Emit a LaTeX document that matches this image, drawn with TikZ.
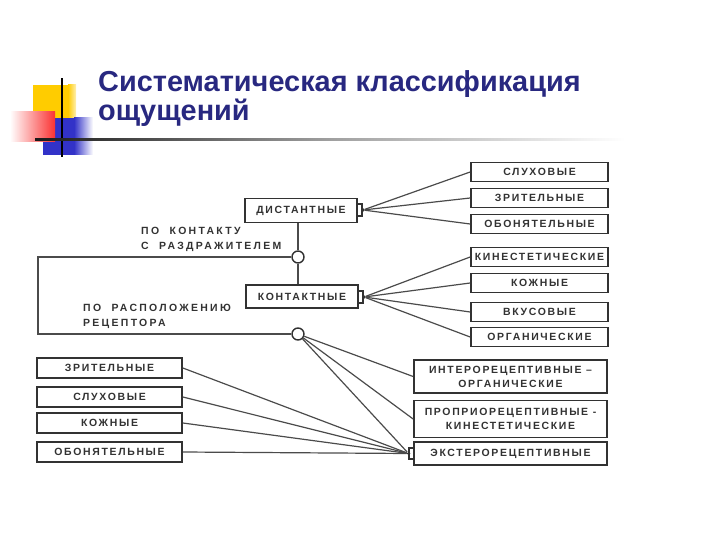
\documentclass[tikz,border=0pt]{standalone}
\usepackage{fontspec}
\setmainfont{Liberation Sans}
\newfontfamily\labfont[LetterSpace=16]{Liberation Sans}
\newfontfamily\sidefont[LetterSpace=22]{Liberation Sans}
\definecolor{titleblue}{RGB}{40,40,128}
\definecolor{ink}{RGB}{50,50,50}
\definecolor{linegray}{RGB}{75,75,75}
\definecolor{decyellow}{RGB}{255,204,0}
\definecolor{decred}{RGB}{250,50,50}
\definecolor{decblue}{RGB}{50,50,200}
\tikzset{
  lbl/.style={font=\labfont\bfseries\fontsize{10.5}{14}\selectfont, text=ink},
  box/.style={lbl, draw=ink, line width=1.7bp, fill=white, inner sep=0pt, align=center},
  rbox/.style={box, minimum width=137bp, minimum height=19bp},
  lbox/.style={box, minimum width=145bp, minimum height=20bp},
  bbox/.style={box, minimum width=193bp},
  conn/.style={draw=linegray, line width=1.2bp},
  ring/.style={circle, draw=ink, line width=1.4bp, fill=white, minimum size=12bp, inner sep=0pt},
  tabdot/.style={circle, fill=ink, minimum size=3.5bp, inner sep=0pt},
  tabshape/.style={draw=ink, line width=1.4bp, fill=white},
  side/.style={font=\sidefont\bfseries\fontsize{10.5}{15}\selectfont, text=ink, anchor=west, align=left, inner sep=0pt},
  ttl/.style={font=\bfseries\fontsize{29}{29}\selectfont, text=titleblue, anchor=base west, inner sep=0pt}
}
\begin{document}
\begin{tikzpicture}[x=1bp,y=-1bp]
\useasboundingbox (0,0) rectangle (720,540);
% decoration
\fill[decyellow] (33,85) rectangle (68,120);
\shade[left color=decyellow, right color=decyellow!30] (68,85) rectangle (76,120);
\fill[decblue] (43,118) rectangle (74,155);
\shade[left color=decblue, right color=white] (74,118) rectangle (93,155);
\shade[left color=white, right color=decred] (10,112) rectangle (55,142);
\fill[black] (61,78) rectangle (63,157);
\shade[left color=black!90, right color=white, middle color=gray!75] (35,139) rectangle (625,141);
% title
\node[ttl] (title1) at (98,92) {Систематическая классификация};
\node[ttl] (title2) at (98,121) {ощущений};
% upper boxes
\node[box, minimum width=112bp, minimum height=24bp] (dist) at (301,210.5) {ДИСТАНТНЫЕ};
\node[box, minimum width=112bp, minimum height=23bp] (cont) at (302,296.5) {КОНТАКТНЫЕ};
\draw[tabshape] (357,204) rectangle (362,216);
\draw[tabshape] (358,291) rectangle (363,303);
\node[tabdot] (dd) at (363,210) {};
\node[tabdot] (cd) at (364,297) {};
% right column
\node[rbox] (r1) at (539.5,172) {СЛУХОВЫЕ};
\node[rbox] (r2) at (539.5,198) {ЗРИТЕЛЬНЫЕ};
\node[rbox] (r3) at (539.5,224) {ОБОНЯТЕЛЬНЫЕ};
\node[rbox] (r4) at (539.5,257) {КИНЕСТЕТИЧЕСКИЕ};
\node[rbox] (r5) at (539.5,283) {КОЖНЫЕ};
\node[rbox] (r6) at (539.5,312) {ВКУСОВЫЕ};
\node[rbox] (r7) at (539.5,337) {ОРГАНИЧЕСКИЕ};
% rings
\node[ring] (c1) at (298,257) {};
\node[ring] (c2) at (298,334) {};
\coordinate (bl) at (38,257);
% side labels
\node[side] (k1) at (141,239.5) {ПО\ \ КОНТАКТУ\\С\ \ РАЗДРАЖИТЕЛЕМ};
\node[side] (k2) at (83,316.5) {ПО\ \ РАСПОЛОЖЕНИЮ\\РЕЦЕПТОРА};
% lower left boxes
\node[lbox] (l1) at (109.5,368) {ЗРИТЕЛЬНЫЕ};
\node[lbox] (l2) at (109.5,397) {СЛУХОВЫЕ};
\node[lbox] (l3) at (109.5,423) {КОЖНЫЕ};
\node[lbox] (l4) at (109.5,452) {ОБОНЯТЕЛЬНЫЕ};
% lower right boxes
\node[bbox, minimum height=33bp] (b1) at (510.5,376.5) {ИНТЕРОРЕЦЕПТИВНЫЕ –\\ОРГАНИЧЕСКИЕ};
\node[bbox, minimum height=37bp] (b2) at (510.5,419) {ПРОПРИОРЕЦЕПТИВНЫЕ -\\КИНЕСТЕТИЧЕСКИЕ};
\node[bbox, minimum height=23bp] (b3) at (510.5,453.5) {ЭКСТЕРОРЕЦЕПТИВНЫЕ};
\draw[tabshape] (409,448) rectangle (414,459);
\node[tabdot] (ed) at (408.5,453.5) {};
% connectors
\draw[conn] (dist.south -| c1) -- (c1);
\draw[conn] (c1) -- (cont.north -| c1);
\draw[conn] (c1) -- (bl) |- (c2);
\foreach \t in {r1,r2,r3} \draw[conn] (dd) -- (\t.west);
\foreach \t in {r4,r5,r6,r7} \draw[conn] (cd) -- (\t.west);
\draw[conn] (c2) -- (b1.west);
\draw[conn] (c2) -- (b2.west);
\draw[conn] (c2) -- (ed);
\foreach \t in {l1,l2,l3,l4} \draw[conn] (\t.east) -- (ed);
\end{tikzpicture}
\end{document}
